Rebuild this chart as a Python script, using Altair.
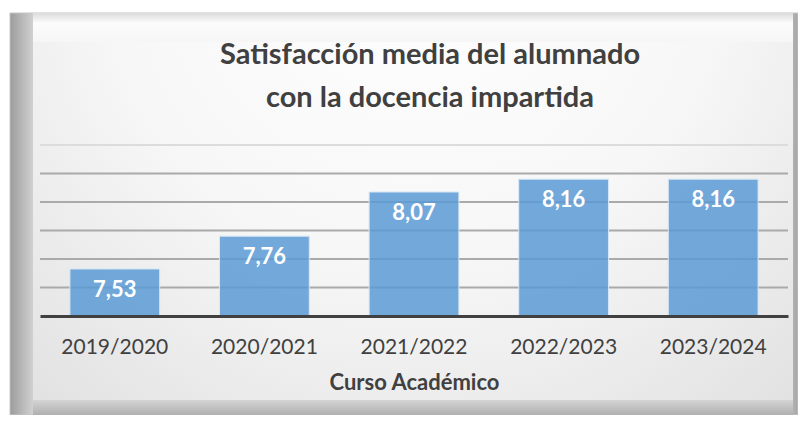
import altair as alt
import pandas as pd

cursos = ["2019/2020", "2020/2021", "2021/2022", "2022/2023", "2023/2024"]
valores = [7.53, 7.76, 8.07, 8.16, 8.16]
grid_vals = [7.4, 7.6, 7.8, 8.0, 8.2, 8.4]
title_lines = ["Satisfacción media del alumnado", "con la docencia impartida"]
x_title = "Curso Académico"

df = pd.DataFrame({"curso": cursos, "valor": valores})
grid_df = pd.DataFrame({"g": grid_vals})

FONT = "Lato"
W, H = 748, 171

one = alt.Data(values=[{}])

def grad_lin(stops, horizontal=True):
    return alt.LinearGradient(
        gradient="linear",
        stops=[alt.GradientStop(offset=o, color=c) for o, c in stops],
        x1=0, y1=0, x2=1 if horizontal else 0, y2=0 if horizontal else 1,
    )

outer = alt.Chart(one).mark_rect(
    fill=grad_lin([(0, "#9c9c9c"), (0.03, "#d2d2d2"), (0.5, "#dedede"), (0.975, "#d2d2d2"), (1, "#a6a6a6")]),
    stroke="#c4c4c4", strokeWidth=1,
).encode(x=alt.value(-30), x2=alt.value(758), y=alt.value(-132), y2=alt.value(270))

top_bevel = alt.Chart(one).mark_rect(
    fill=grad_lin([(0, "#dcdcdc"), (0.35, "#fcfcfc"), (1, "#f6f6f6")], horizontal=False),
).encode(x=alt.value(-7), x2=alt.value(753), y=alt.value(-132), y2=alt.value(-103))

bottom_bevel = alt.Chart(one).mark_rect(
    fill=grad_lin([(0, "#d4d4d4"), (1, "#b0b0b0")], horizontal=False),
).encode(x=alt.value(-7), x2=alt.value(753), y=alt.value(255), y2=alt.value(270))

inner = alt.Chart(one).mark_rect(
    fill=alt.RadialGradient(
        gradient="radial",
        stops=[alt.GradientStop(offset=0, color="#ffffff"), alt.GradientStop(offset=0.5, color="#f7f7f7"),
               alt.GradientStop(offset=1, color="#e0e0e0")],
        x1=0.5, y1=0.15, r1=0, x2=0.5, y2=0.15, r2=0.8,
    ),
).encode(x=alt.value(-7), x2=alt.value(753), y=alt.value(-103), y2=alt.value(255))

yscale = alt.Scale(domain=[7.2, 8.4], zero=False, nice=False)

grid = alt.Chart(grid_df).mark_rule(strokeWidth=2).encode(
    y=alt.Y("g:Q", scale=yscale, axis=None),
    color=alt.condition("datum.g > 8.3", alt.value("#dcdcdc"), alt.value("#aaaaaa")),
)

base = alt.Chart(df).encode(
    x=alt.X("curso:N", sort=cursos, title=x_title,
            scale=alt.Scale(paddingInner=0.4, paddingOuter=0.2),
            axis=alt.Axis(labelAngle=0, ticks=False, labelPadding=20, labelFontSize=21,
                          labelFont=FONT, labelColor="#404040", domainColor="#404040",
                          domainWidth=3, titleFont=FONT, titleFontSize=22, titleFontWeight="bold",
                          titleColor="#404040", titlePadding=15, zindex=1, grid=False)),
)

bars = base.mark_bar(color="#5b9bd5", fillOpacity=0.85, stroke="#d6e6f5", strokeWidth=1).encode(
    y=alt.Y("valor:Q", scale=yscale, axis=None),
    y2=alt.datum(7.2),
)

labels = base.mark_text(color="white", font=FONT, fontWeight="bold", fontSize=22,
                        baseline="alphabetic", dy=28).transform_calculate(
    label="replace(format(datum.valor, '.2f'), '.', ',')"
).encode(y=alt.Y("valor:Q", scale=yscale), text="label:N")

chart = alt.layer(outer, top_bevel, bottom_bevel, inner, grid, bars, labels).properties(
    width=W, height=H,
    autosize=alt.AutoSizeParams(type="none"),
    padding={"left": 32, "top": 137, "right": 10, "bottom": 99},
    background="white",
    title=alt.TitleParams(text=title_lines, font=FONT, fontSize=29, fontWeight="bold", color="#404040",
                          anchor="middle", lineHeight=43, offset=-100, dx=16, frame="group"),
).configure_view(stroke=None)

chart.save("out.html", embed_options={"renderer": "svg", "actions": False})
